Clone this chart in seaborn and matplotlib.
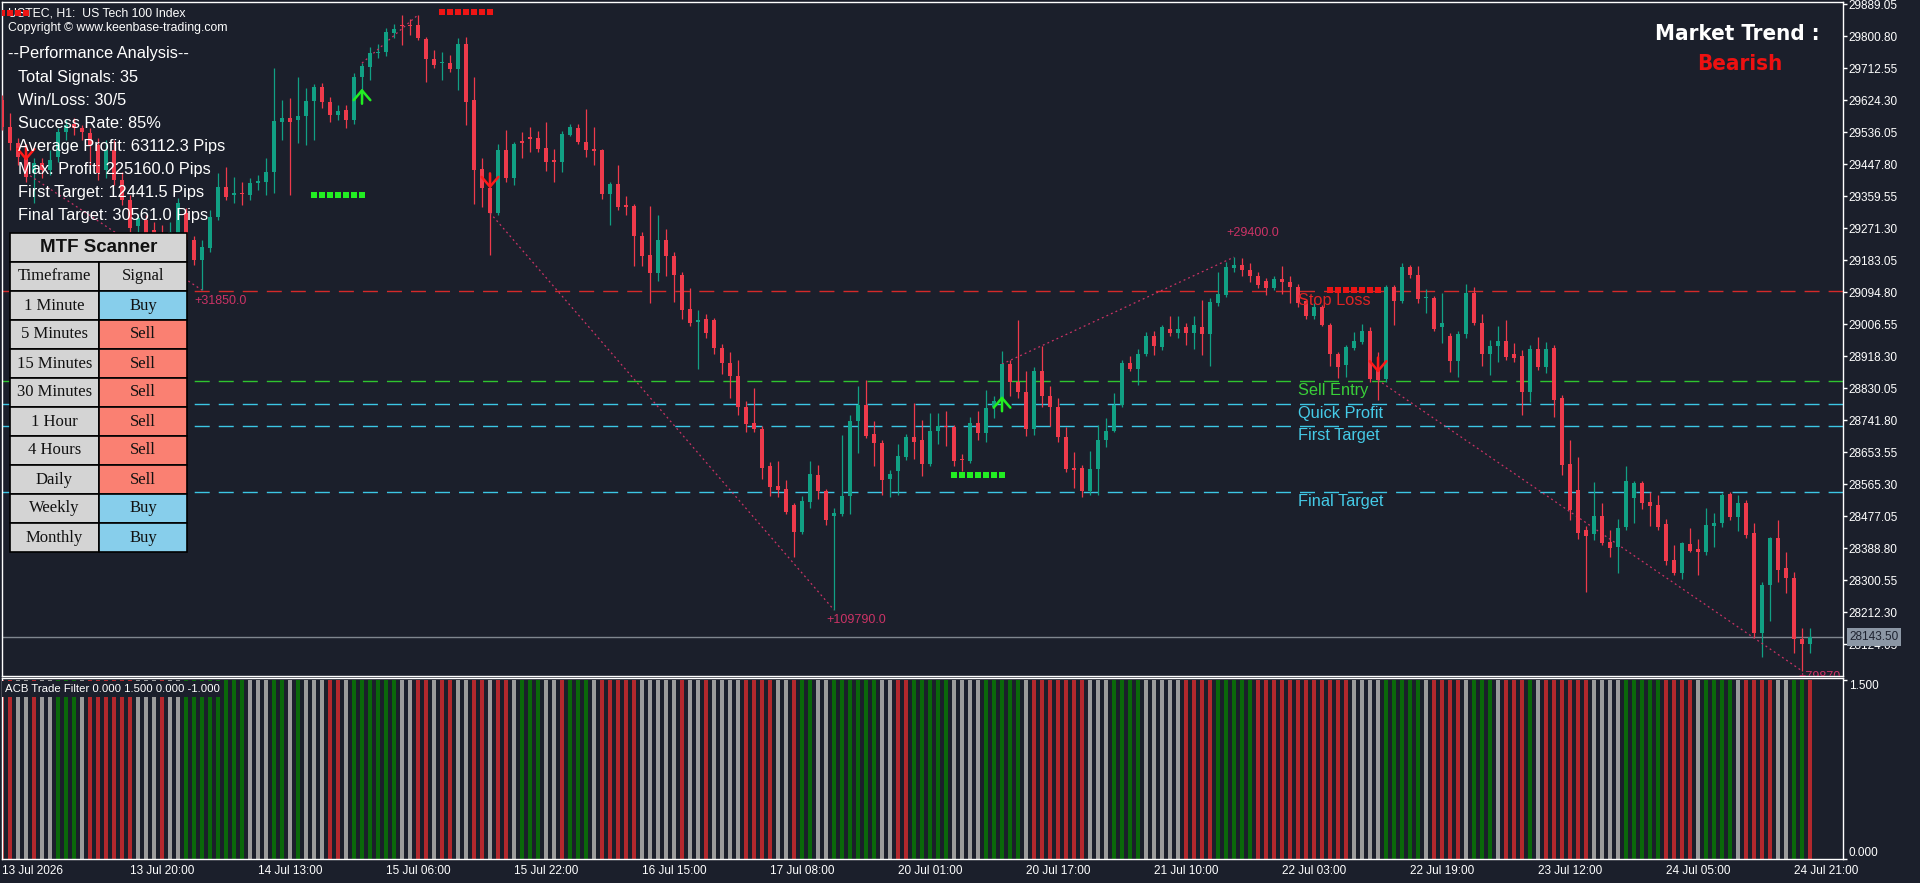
import numpy as np
import pandas as pd
import matplotlib
matplotlib.use("Agg")
import matplotlib.pyplot as plt
import seaborn as sns
from matplotlib.patches import Rectangle
from matplotlib.transforms import blended_transform_factory
from matplotlib import font_manager as fm

# ---------------- data (USTEC H1) ----------------
bar_open = [
    29624, 29550, 29506, 29467, 29423, 29450, 29431, 29467, 29536, 29558,
    29547, 29533, 29500, 29431, 29486, 29404, 29348, 29277, 29293, 29266,
    29257, 29244, 29257, 29313, 29238, 29183, 29216, 29302, 29384, 29362,
    29368, 29362, 29395, 29398, 29426, 29564, 29575, 29569, 29580, 29621,
    29660, 29619, 29583, 29597, 29569, 29688, 29715, 29754, 29757, 29809,
    29831, 29831, 29831, 29792, 29737, 29726, 29726, 29710, 29779, 29624,
    29434, 29382, 29313, 29486, 29409, 29511, 29522, 29519, 29492, 29459,
    29453, 29528, 29547, 29508, 29489, 29486, 29365, 29393, 29335, 29332,
    29249, 29197, 29147, 29238, 29194, 29142, 29048, 29012, 29020, 29017,
    28940, 28899, 28863, 28777, 28733, 28717, 28615, 28560, 28551, 28507,
    28433, 28516, 28590, 28546, 28477, 28482, 28532, 28739, 28783, 28703,
    28678, 28579, 28601, 28640, 28695, 28686, 28620, 28711, 28725, 28722,
    28634, 28629, 28733, 28706, 28777, 28794, 28896, 28846, 28819, 28717,
    28877, 28808, 28777, 28695, 28609, 28609, 28546, 28607, 28686, 28711,
    28783, 28899, 28882, 28924, 28973, 28943, 28993, 28982, 28998, 28982,
    28998, 28979, 29064, 29086, 29161, 29169, 29155, 29139, 29125, 29106,
    29131, 29122, 29108, 29070, 29028, 29053, 29004, 28924, 28893, 28940,
    28957, 28987, 28882, 28855, 29108, 29070, 29164, 29142, 29078, 29078,
    28998, 28973, 28904, 28979, 29092, 29009, 28924, 28946, 28960, 28924,
    28918, 28819, 28937, 28888, 28940, 28802, 28620, 28549, 28438, 28427,
    28477, 28405, 28391, 28447, 28527, 28568, 28516, 28507, 28455, 28356,
    28320, 28400, 28386, 28378, 28449, 28458, 28538, 28474, 28513, 28430,
    28154, 28287, 28416, 28333, 28306, 28138, 28124,
]
bar_high = [
    29638, 29588, 29519, 29486, 29464, 29464, 29486, 29547, 29569, 29575,
    29555, 29547, 29519, 29514, 29514, 29426, 29362, 29310, 29307, 29288,
    29279, 29288, 29354, 29326, 29249, 29238, 29321, 29423, 29439, 29412,
    29398, 29409, 29417, 29464, 29712, 29624, 29630, 29688, 29657, 29668,
    29671, 29632, 29610, 29610, 29699, 29726, 29770, 29779, 29823, 29834,
    29859, 29848, 29859, 29798, 29762, 29757, 29748, 29795, 29798, 29688,
    29464, 29420, 29503, 29542, 29508, 29536, 29550, 29539, 29564, 29489,
    29539, 29558, 29558, 29599, 29550, 29489, 29398, 29445, 29359, 29337,
    29260, 29332, 29307, 29268, 29205, 29150, 29106, 29045, 29034, 29023,
    28951, 28929, 28907, 28794, 28830, 28725, 28626, 28629, 28576, 28513,
    28532, 28629, 28618, 28551, 28499, 28700, 28755, 28835, 28852, 28739,
    28686, 28604, 28675, 28703, 28789, 28742, 28761, 28761, 28766, 28728,
    28648, 28750, 28766, 28824, 28808, 28932, 28907, 29017, 28877, 28888,
    28946, 28835, 28802, 28722, 28653, 28618, 28656, 28728, 28747, 28816,
    28907, 28918, 28937, 28984, 28987, 29004, 29028, 29028, 29009, 29028,
    29073, 29078, 29150, 29177, 29191, 29188, 29175, 29150, 29133, 29139,
    29166, 29139, 29117, 29075, 29064, 29059, 29009, 28929, 28949, 28984,
    29006, 28998, 28929, 29114, 29114, 29175, 29169, 29166, 29103, 29084,
    29092, 28982, 28987, 29117, 29108, 29034, 28962, 29001, 29017, 28954,
    28935, 28949, 28971, 28957, 28949, 28811, 28686, 28640, 28449, 28571,
    28513, 28438, 28469, 28615, 28573, 28573, 28543, 28535, 28469, 28397,
    28405, 28444, 28413, 28499, 28485, 28540, 28543, 28535, 28521, 28458,
    28295, 28419, 28466, 28378, 28322, 28168, 28168,
]
bar_low = [
    29542, 29486, 29445, 29398, 29340, 29409, 29417, 29453, 29514, 29528,
    29514, 29445, 29404, 29409, 29390, 29335, 29260, 29260, 29244, 29238,
    29224, 29233, 29249, 29224, 29169, 29100, 29205, 29293, 29348, 29340,
    29335, 29348, 29376, 29362, 29368, 29514, 29362, 29506, 29500, 29514,
    29602, 29564, 29569, 29547, 29558, 29624, 29679, 29740, 29746, 29795,
    29776, 29803, 29790, 29674, 29712, 29679, 29701, 29652, 29555, 29337,
    29329, 29197, 29307, 29398, 29390, 29464, 29481, 29481, 29428, 29398,
    29426, 29525, 29503, 29467, 29445, 29351, 29279, 29321, 29307, 29166,
    29166, 29064, 29125, 29139, 29067, 29020, 29001, 28882, 28968, 28924,
    28869, 28802, 28755, 28709, 28709, 28579, 28532, 28529, 28482, 28364,
    28427, 28499, 28524, 28452, 28218, 28477, 28482, 28651, 28692, 28615,
    28535, 28529, 28535, 28631, 28634, 28587, 28615, 28675, 28670, 28615,
    28601, 28623, 28686, 28681, 28747, 28789, 28808, 28802, 28698, 28700,
    28777, 28725, 28681, 28598, 28554, 28529, 28535, 28535, 28667, 28709,
    28777, 28877, 28838, 28918, 28921, 28935, 28973, 28968, 28948, 28937,
    28921, 28891, 29056, 29081, 29150, 29139, 29122, 29106, 29086, 29100,
    29089, 29064, 29053, 29020, 29020, 29001, 28891, 28858, 28860, 28935,
    28951, 28846, 28797, 28846, 29004, 29064, 29133, 29064, 29037, 28987,
    28954, 28874, 28860, 28968, 29004, 28891, 28866, 28902, 28907, 28902,
    28755, 28791, 28880, 28871, 28750, 28590, 28466, 28413, 28267, 28411,
    28397, 28364, 28320, 28438, 28458, 28496, 28449, 28438, 28342, 28314,
    28303, 28378, 28314, 28369, 28391, 28447, 28466, 28436, 28416, 28143,
    28088, 28187, 28295, 28264, 28099, 28049, 28099,
]
bar_close = [
    29550, 29506, 29467, 29412, 29450, 29431, 29459, 29536, 29555, 29547,
    29536, 29500, 29423, 29486, 29404, 29348, 29271, 29299, 29257, 29249,
    29238, 29260, 29340, 29238, 29183, 29219, 29302, 29384, 29357, 29368,
    29365, 29395, 29401, 29426, 29566, 29575, 29564, 29580, 29621, 29660,
    29619, 29583, 29594, 29569, 29688, 29718, 29754, 29757, 29812, 29820,
    29828, 29828, 29795, 29737, 29721, 29729, 29710, 29779, 29619, 29431,
    29382, 29313, 29486, 29409, 29503, 29506, 29517, 29489, 29453, 29453,
    29530, 29550, 29508, 29486, 29484, 29365, 29393, 29329, 29329, 29249,
    29194, 29147, 29238, 29194, 29142, 29045, 29009, 29017, 28982, 28940,
    28899, 28863, 28777, 28731, 28717, 28609, 28557, 28549, 28488, 28433,
    28518, 28593, 28546, 28466, 28485, 28532, 28739, 28783, 28698, 28678,
    28576, 28593, 28642, 28695, 28681, 28620, 28711, 28725, 28722, 28629,
    28631, 28733, 28706, 28775, 28794, 28896, 28846, 28819, 28717, 28877,
    28808, 28777, 28695, 28607, 28604, 28546, 28607, 28686, 28711, 28783,
    28899, 28882, 28924, 28973, 28946, 28998, 28982, 28993, 28982, 29004,
    28979, 29067, 29089, 29164, 29169, 29155, 29139, 29114, 29106, 29131,
    29122, 29108, 29064, 29028, 29053, 29004, 28924, 28888, 28943, 28960,
    28987, 28855, 28852, 29108, 29070, 29164, 29142, 29075, 29081, 28993,
    29009, 28904, 28979, 29092, 29009, 28924, 28946, 28960, 28915, 28913,
    28819, 28937, 28888, 28937, 28797, 28618, 28493, 28430, 28422, 28477,
    28402, 28389, 28444, 28573, 28568, 28513, 28504, 28447, 28353, 28320,
    28402, 28380, 28378, 28452, 28458, 28535, 28474, 28513, 28424, 28154,
    28287, 28416, 28328, 28306, 28138, 28124, 28143.5,
]

# ACB Trade Filter state per bar: R = sell, G = buy, N = neutral
filter_states = (
    "RRNNRNNGGG" "NRRRRRRNNN" "RNNGGGGGGG" "GNNNGGNGNN" "NRRNGGGGGG"
    "NNRRNRRNNR" "RNRRNGGGNN" "RGGGNRRRRR" "NNNNNRNNRN" "NNNRRRRNNR"
    "GGNNGGGGGG" "NNRRGGGGGN" "NNNGGGGGNR" "RRRRRRNNNG" "GGGNNNNNRR"
    "RRGGGGGRRR" "RRRRRRRRRN" "NNNGGGGGNR" "RRRNGGGNRR" "RGNRRRRRRN"
    "NNNGGGGGRR" "RRNGGGGNRR" "RRNNGGR"
)
FILTER_LEVEL = 1.5

time_label_bars = [0, 16, 32, 48, 64, 80, 96, 112, 128, 144, 160, 176, 192, 208, 224]
time_labels = ["13 Jul 2026", "13 Jul 20:00", "14 Jul 13:00", "15 Jul 06:00",
               "15 Jul 22:00", "16 Jul 15:00", "17 Jul 08:00", "20 Jul 01:00",
               "20 Jul 17:00", "21 Jul 10:00", "22 Jul 03:00", "22 Jul 19:00",
               "23 Jul 12:00", "24 Jul 05:00", "24 Jul 21:00"]
price_ticks = [29889.05, 29800.80, 29712.55, 29624.30, 29536.05, 29447.80, 29359.55,
               29271.30, 29183.05, 29094.80, 29006.55, 28918.30, 28830.05, 28741.80,
               28653.55, 28565.30, 28477.05, 28388.80, 28300.55, 28212.30, 28124.05]
current_price = 28143.50

level_names = ["Stop Loss", "Sell Entry", "Quick Profit", "First Target", "Final Target"]
level_prices = [29097, 28849, 28785, 28724, 28542]
level_colors = ["#d42a2a", "#2fc42f", "#3cc6e4", "#3cc6e4", "#3cc6e4"]
level_text_colors = ["#e02424", "#39cf39", "#45cbe8", "#45cbe8", "#45cbe8"]

# signal arrows (bar, price, direction)
signal_bars = [3, 45, 61, 125, 172]
signal_prices = [29478, 29635, 29401, 28787, 28893]
signal_dirs = ["sell", "buy", "sell", "buy", "sell"]

# stop markers (first bar, last bar, price, side)
stop_first = [0, 39, 55, 119, 166]
stop_last = [3, 45, 61, 125, 172]
stop_price = [29864, 29362, 29867, 28590, 29100]
stop_side = ["sell", "buy", "sell", "buy", "sell"]

# zigzag from signal to extreme, with profit labels
zig_start_bar = [3, 45, 61, 125, 172]
zig_start_price = [29423, 29726, 29313, 28896, 28852]
zig_end_bar = [25, 52, 104, 154, 225]
zig_end_price = [29100, 29859, 28218, 29191, 28050]
zig_label = ["+31850.0", "", "+109790.0", "+29400.0", "+79870"]
zig_label_bar = [24.1, 52, 103.1, 153.1, 224.5]
zig_label_price = [29062, 29900, 28182, 29248, 28025]

perf_title = "--Performance Analysis--"
perf_lines = ["Total Signals: 35", "Win/Loss: 30/5", "Success Rate: 85%",
              "Average Profit: 63112.3 Pips", "Max. Profit: 225160.0 Pips",
              "First Target: 12441.5 Pips", "Final Target: 30561.0 Pips"]

mtf_timeframes = ["1 Minute", "5 Minutes", "15 Minutes", "30 Minutes", "1 Hour",
                  "4 Hours", "Daily", "Weekly", "Monthly"]
mtf_signals = ["Buy", "Sell", "Sell", "Sell", "Sell", "Sell", "Sell", "Buy", "Buy"]

# ---------------- styling ----------------
BG = "#1b1f2b"
BULL = "#11a084"
BEAR = "#ef3a4b"
PINK = "#cc3366"
W, H = 1920, 883

sns.set_theme(style="dark", rc={"axes.facecolor": BG, "figure.facecolor": BG,
                                "axes.edgecolor": "white", "axes.linewidth": 1.0})
plt.rcParams["font.family"] = ["Liberation Sans", "DejaVu Sans"]

# narrow heavy face for the trend box, if one is around
names = {f.name for f in fm.fontManager.ttflist}
dv_cond = [f for f in fm.fontManager.ttflist
           if f.name == "DejaVu Sans" and "Condensed" in f.fname and "Bold" in f.fname]
trend_kw = dict(fontweight="bold")
if "Liberation Sans Narrow" in names:
    trend_kw.update(family=["Liberation Sans Narrow"], fontsize=18.5)
elif dv_cond:
    trend_kw.update(family=["DejaVu Sans"], fontstretch="condensed", fontsize=16)
else:
    trend_kw.update(family=["DejaVu Sans"], fontsize=14.5)


def fig_rect(x0, y0, x1, y1):
    return [x0 / W, 1 - y1 / H, (x1 - x0) / W, (y1 - y0) / H]


fig = plt.figure(figsize=(19.2, 8.83), dpi=100, facecolor=BG)
ax = fig.add_axes(fig_rect(2, 2, 1843, 676))
ax2 = fig.add_axes(fig_rect(2, 678, 1843, 859))

df = pd.DataFrame({"open": bar_open, "high": bar_high, "low": bar_low, "close": bar_close})
df["bar"] = np.arange(len(df))
colors = np.where(df["close"] >= df["open"], BULL, BEAR)

# candles
ax.vlines(df["bar"], df["low"], df["high"], colors=colors, lw=0.9, zorder=3)
body = (df["close"] - df["open"]).abs().clip(lower=2.8)
ax.bar(df["bar"], body, bottom=np.minimum(df["open"], df["close"]), width=0.62,
       color=colors, lw=0, zorder=4)

# trade levels
for name, price, lc, tc in zip(level_names, level_prices, level_colors, level_text_colors):
    ax.axhline(price, color=lc, lw=1.0, ls=(0, (10.8, 6.5)), zorder=2)
    ax.text(162, price - 38, name, color=tc, fontsize=11.8, va="baseline", ha="left", zorder=5)

# current price line
ax.axhline(current_price, color="#80868f", lw=1.0, zorder=2)

# zigzags
for b0, p0, b1, p1, lab, lb, lp in zip(zig_start_bar, zig_start_price, zig_end_bar,
                                       zig_end_price, zig_label, zig_label_bar, zig_label_price):
    ax.plot([b0, b1], [p0, p1], color=PINK, lw=0.9, ls=(0, (1.5, 2.5)), zorder=3)
    if lab:
        ax.text(lb, lp, lab, color=PINK, fontsize=9, va="baseline", ha="left",
                clip_on=True, zorder=5)

# stop markers
for b0, b1, p, side in zip(stop_first, stop_last, stop_price, stop_side):
    xs = np.arange(b0, b1 + 1)
    ax.scatter(xs, np.full(len(xs), p), marker="s", s=20,
               color="#ee1515" if side == "sell" else "#22ee22", lw=0, zorder=6)

# signal arrows: stem with an open chevron head
for b, p, d in zip(signal_bars, signal_prices, signal_dirs):
    tip, tail = (p - 21, p + 21) if d == "sell" else (p + 21, p - 21)
    ax.annotate("", xy=(b, tip), xytext=(b, tail), zorder=6,
                arrowprops=dict(arrowstyle="->,head_length=0.35,head_width=0.3",
                                color="#ff1a1a" if d == "sell" else "#22ee22",
                                lw=1.8, mutation_scale=20,
                                shrinkA=0, shrinkB=0))

ax.set_xlim(0, 230.125)
ax.set_ylim(28035.81, 29894.57)
ax.set_xticks([])
ax.yaxis.tick_right()
ax.set_yticks(price_ticks)
ax.set_yticklabels([f"{v:.2f}" for v in price_ticks])
ax.tick_params(axis="y", colors="white", labelsize=8.5, length=3, width=1, pad=1,
               direction="out", labelcolor="white")
ax.grid(False)
for s in ax.spines.values():
    s.set_color("white")
    s.set_linewidth(1.0)


# chart header text (below markers)
def fx(px):
    return (px - 2) / 1841


def fy(py):
    return 1 - (py - 2) / 674


ax.text(fx(8), fy(17), "USTEC, H1:  US Tech 100 Index", transform=ax.transAxes,
        color="white", fontsize=8.8, va="baseline", zorder=1)
ax.text(fx(8), fy(31), "Copyright \u00a9 www.keenbase-trading.com", transform=ax.transAxes,
        color="white", fontsize=8.8, va="baseline", zorder=1)

# price tag
tr = blended_transform_factory(ax.transAxes, ax.transData)
ax.text(1.0035, current_price, f"{current_price:.2f}", transform=tr, color="#1e2330",
        fontsize=8.5, va="center", ha="left", clip_on=False, zorder=10,
        bbox=dict(boxstyle="square,pad=0.22", fc="#8c97a5", ec="none"))

# ---------------- ACB Trade Filter panel ----------------
flt = pd.DataFrame({"bar": np.arange(len(filter_states)),
                    "state": list(filter_states),
                    "level": FILTER_LEVEL})
sns.barplot(data=flt, x="bar", y="level", hue="state",
            palette={"R": "#b3282d", "G": "#0a680a", "N": "#9b9b9b"},
            dodge=False, width=0.55, saturation=1, legend=False, errorbar=None,
            ax=ax2, zorder=2, linewidth=0)
ax2.set_xlim(0, 230.125)
ax2.set_ylim(0, 1.517)
ax2.set_xlabel("")
ax2.set_ylabel("")
ax2.set_xticks(time_label_bars)
ax2.set_xticklabels(time_labels, ha="left")
ax2.tick_params(axis="x", colors="white", labelsize=8.5, length=3.5, width=1, pad=1,
                direction="out", labelcolor="white")
ax2.yaxis.tick_right()
ax2.set_yticks([0.0, 1.5])
ax2.set_yticklabels(["0.000", "1.500"])
ax2.tick_params(axis="y", colors="white", labelsize=8.5, length=3, width=1, pad=1,
                direction="out", labelcolor="white")
ylabs = ax2.get_yticklabels()
ylabs[0].set_va("bottom")
ylabs[1].set_va("top")
ax2.grid(False)
for s in ax2.spines.values():
    s.set_color("white")
    s.set_linewidth(1.0)

# ---------------- overlay: info panel, scanner, trend ----------------
ov = fig.add_axes([0, 0, 1, 1], zorder=20)
ov.set_xlim(0, W)
ov.set_ylim(H, 0)
ov.axis("off")
ov.patch.set_visible(False)

ov.text(8, 58, perf_title, color="white", fontsize=11.8, va="baseline")
for k, line in enumerate(perf_lines):
    ov.text(18, 82 + 23 * k, line, color="white", fontsize=11.8, va="baseline")

CELL = "#d4d4d4"
BUY_C = "#87ceeb"
SELL_C = "#fa8072"
tx0, txm, tx1 = 10, 99, 187
ov.add_patch(Rectangle((tx0, 233), tx1 - tx0, 29, fc=CELL, ec="black", lw=1.2))
ov.text((tx0 + tx1) / 2, 247.5, "MTF Scanner", fontsize=13.5, fontweight="bold",
        color="#111111", ha="center", va="center")
ov.add_patch(Rectangle((tx0, 262), txm - tx0, 29, fc=CELL, ec="black", lw=1.2))
ov.add_patch(Rectangle((txm, 262), tx1 - txm, 29, fc=CELL, ec="black", lw=1.2))
serif = ["Liberation Serif", "DejaVu Serif"]
ov.text((tx0 + txm) / 2, 276.5, "Timeframe", fontsize=12, family=serif,
        color="#111111", ha="center", va="center")
ov.text((txm + tx1) / 2, 276.5, "Signal", fontsize=12, family=serif,
        color="#111111", ha="center", va="center")
for k, (tf, sig) in enumerate(zip(mtf_timeframes, mtf_signals)):
    top = 291 + 29 * k
    ov.add_patch(Rectangle((tx0, top), txm - tx0, 29, fc=CELL, ec="black", lw=1.2))
    ov.add_patch(Rectangle((txm, top), tx1 - txm, 29,
                           fc=BUY_C if sig == "Buy" else SELL_C, ec="black", lw=1.2))
    ov.text((tx0 + txm) / 2, top + 14.5, tf, fontsize=12, family=serif,
            color="#111111", ha="center", va="center")
    ov.text((txm + tx1) / 2, top + 14.5, sig, fontsize=12, family=serif,
            color="#111111", ha="center", va="center")

ov.text(1737, 40, "Market Trend :", color="white", ha="center", va="baseline", **trend_kw)
ov.text(1740, 70, "Bearish", color="#ee1111", ha="center", va="baseline", **trend_kw)

ov.text(5, 689, "ACB Trade Filter 0.000 1.500 0.000 -1.000", color="white",
        fontsize=8.2, va="center", ha="left",
        bbox=dict(boxstyle="square,pad=0.25", fc=BG, ec="none"))

fig.savefig("out.png", dpi=100, facecolor=BG)
